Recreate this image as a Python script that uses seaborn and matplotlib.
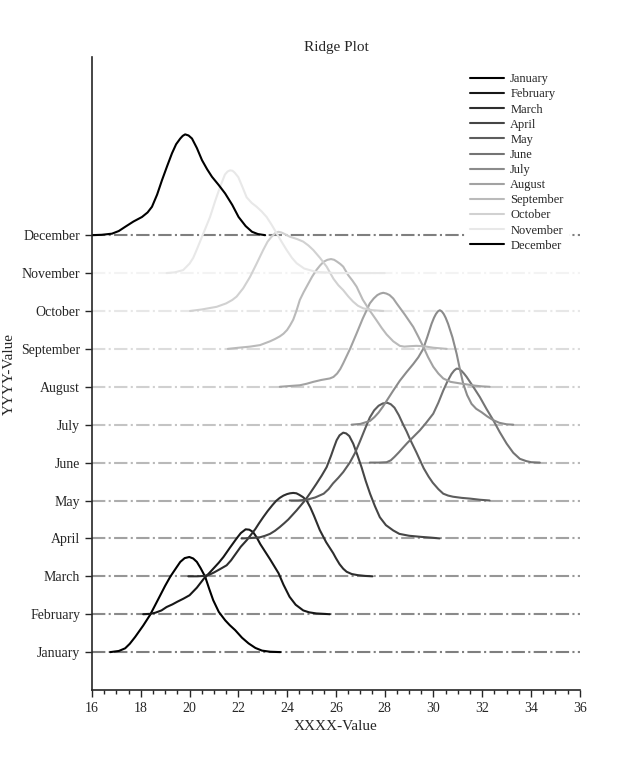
import matplotlib
matplotlib.use("Agg")
import matplotlib.pyplot as plt
from matplotlib.ticker import MultipleLocator
import pandas as pd
import seaborn as sns

sns.set_style("ticks")
plt.rcParams["font.family"] = ["Liberation Serif", "DejaVu Serif"]

months = ["January", "February", "March", "April", "May", "June", "July",
          "August", "September", "October", "November", "December"]

jan_x = [16.75, 17.1, 17.36, 17.55, 17.77, 18.1, 18.39, 18.8, 19.0, 19.21, 19.45, 19.62, 19.8, 19.99, 20.15, 20.3, 20.45, 20.64, 20.8, 20.97, 21.2, 21.46, 21.65, 21.87, 22.15, 22.42, 22.7, 22.97, 23.3, 23.72]
jan_h = [0, 0.03, 0.1, 0.22, 0.40, 0.7, 0.99, 1.5, 1.75, 1.99, 2.22, 2.38, 2.48, 2.51, 2.47, 2.38, 2.22, 1.99, 1.68, 1.37, 1.06, 0.84, 0.71, 0.58, 0.38, 0.23, 0.11, 0.04, 0.01, 0]

feb_x = [18.1, 18.4, 18.6, 18.85, 19.06, 19.3, 19.5, 19.75, 20.0, 20.3, 20.6, 20.8, 21.0, 21.2, 21.39, 21.65, 21.93, 22.1, 22.3, 22.45, 22.6, 22.75, 22.9, 23.1, 23.3, 23.48, 23.65, 23.85, 24.1, 24.35, 24.66, 24.9, 25.2, 25.75]
feb_h = [0, 0.01, 0.04, 0.1, 0.19, 0.26, 0.33, 0.41, 0.5, 0.7, 0.95, 1.08, 1.22, 1.36, 1.51, 1.75, 2.0, 2.14, 2.24, 2.23, 2.17, 2.03, 1.85, 1.65, 1.45, 1.26, 1.08, 0.78, 0.46, 0.25, 0.1, 0.05, 0.02, 0]

mar_x = [19.95, 20.3, 20.6, 20.8, 21.0, 21.25, 21.52, 21.7, 21.9, 22.1, 22.34, 22.5, 22.7, 22.85, 23.02, 23.2, 23.4, 23.55, 23.7, 23.85, 24.0, 24.12, 24.25, 24.38, 24.5, 24.65, 24.8, 24.95, 25.1, 25.22, 25.34, 25.47, 25.6, 25.75, 25.89, 26.0, 26.15, 26.3, 26.44, 26.65, 26.9, 27.2, 27.5]
mar_h = [0, 0.0, 0.01, 0.04, 0.1, 0.19, 0.29, 0.42, 0.6, 0.78, 0.95, 1.08, 1.25, 1.4, 1.56, 1.72, 1.88, 1.99, 2.07, 2.13, 2.17, 2.19, 2.2, 2.19, 2.15, 2.09, 2.0, 1.82, 1.6, 1.41, 1.22, 1.06, 0.9, 0.75, 0.61, 0.48, 0.32, 0.2, 0.12, 0.06, 0.03, 0.01, 0]

apr_x = [22.13, 22.5, 22.89, 23.1, 23.3, 23.5, 23.7, 23.88, 24.05, 24.22, 24.39, 24.56, 24.73, 24.95, 25.2, 25.42, 25.62, 25.8, 25.92, 26.03, 26.15, 26.3, 26.42, 26.55, 26.71, 26.88, 27.05, 27.22, 27.4, 27.6, 27.8, 28.05, 28.35, 28.6, 29.0, 29.5, 29.9, 30.25]
apr_h = [0, 0.01, 0.03, 0.07, 0.12, 0.2, 0.3, 0.4, 0.5, 0.62, 0.74, 0.87, 1.0, 1.2, 1.44, 1.66, 1.88, 2.18, 2.4, 2.59, 2.72, 2.79, 2.77, 2.7, 2.5, 2.2, 1.88, 1.52, 1.18, 0.85, 0.56, 0.35, 0.21, 0.12, 0.07, 0.04, 0.02, 0]

may_x = [24.1, 24.45, 24.8, 25.15, 25.5, 25.7, 25.88, 26.1, 26.3, 26.57, 26.78, 26.98, 27.2, 27.39, 27.57, 27.75, 27.92, 28.1, 28.25, 28.4, 28.58, 28.76, 28.9, 29.05, 29.3, 29.45, 29.6, 29.8, 29.97, 30.2, 30.4, 30.6, 30.8, 31.15, 31.5, 31.9, 32.3]
may_h = [0, 0.0, 0.02, 0.08, 0.18, 0.3, 0.45, 0.6, 0.75, 1.0, 1.25, 1.55, 1.9, 2.19, 2.38, 2.5, 2.56, 2.58, 2.54, 2.45, 2.25, 2.0, 1.82, 1.6, 1.27, 1.06, 0.85, 0.63, 0.47, 0.3, 0.18, 0.13, 0.1, 0.07, 0.05, 0.02, 0]

jun_x = [27.39, 27.75, 28.08, 28.25, 28.4, 28.58, 28.76, 28.93, 29.1, 29.27, 29.44, 29.7, 29.99, 30.2, 30.4, 30.57, 30.74, 30.85, 30.95, 31.05, 31.15, 31.25, 31.36, 31.63, 31.9, 32.17, 32.45, 32.72, 33.0, 33.27, 33.54, 33.8, 34.0, 34.36]
jun_h = [0, 0.0, 0.01, 0.06, 0.15, 0.27, 0.4, 0.52, 0.63, 0.74, 0.85, 1.05, 1.29, 1.58, 1.9, 2.14, 2.34, 2.43, 2.48, 2.47, 2.42, 2.35, 2.26, 2.0, 1.73, 1.42, 1.12, 0.8, 0.5, 0.26, 0.1, 0.04, 0.01, 0]

jul_x = [26.64, 27.0, 27.4, 27.58, 27.75, 27.92, 28.08, 28.35, 28.62, 28.9, 29.17, 29.38, 29.58, 29.75, 29.92, 30.02, 30.1, 30.18, 30.26, 30.34, 30.42, 30.5, 30.6, 30.78, 30.95, 31.08, 31.22, 31.38, 31.56, 31.75, 31.97, 32.2, 32.45, 32.7, 33.0, 33.27]
jul_h = [0, 0.02, 0.1, 0.2, 0.32, 0.47, 0.63, 0.9, 1.16, 1.39, 1.6, 1.78, 2.0, 2.32, 2.66, 2.82, 2.92, 2.99, 3.02, 2.99, 2.92, 2.82, 2.66, 2.3, 1.87, 1.47, 1.08, 0.78, 0.55, 0.42, 0.33, 0.22, 0.12, 0.05, 0.01, 0]

aug_x = [23.7, 24.1, 24.52, 24.8, 25.07, 25.4, 25.75, 25.9, 26.05, 26.18, 26.3, 26.58, 26.85, 27.1, 27.39, 27.55, 27.7, 27.82, 27.94, 28.07, 28.2, 28.35, 28.49, 28.83, 29.17, 29.38, 29.58, 29.78, 29.99, 30.2, 30.4, 30.7, 31.08, 31.4, 31.7, 32.0, 32.3]
aug_h = [0, 0.02, 0.04, 0.08, 0.13, 0.18, 0.22, 0.26, 0.35, 0.47, 0.62, 1.0, 1.41, 1.8, 2.2, 2.33, 2.42, 2.46, 2.48, 2.46, 2.42, 2.33, 2.2, 1.9, 1.58, 1.32, 1.06, 0.78, 0.53, 0.35, 0.22, 0.13, 0.09, 0.06, 0.03, 0.01, 0]

sep_x = [21.57, 22.0, 22.48, 22.89, 23.3, 23.5, 23.7, 23.85, 24.0, 24.12, 24.25, 24.38, 24.52, 24.68, 24.85, 25.02, 25.2, 25.35, 25.5, 25.65, 25.8, 25.93, 26.05, 26.18, 26.3, 26.5, 26.68, 26.85, 27.1, 27.4, 27.67, 27.88, 28.08, 28.35, 28.62, 28.8, 29.0, 29.3, 29.6, 30.0, 30.54]
sep_h = [0, 0.03, 0.06, 0.1, 0.2, 0.26, 0.33, 0.4, 0.5, 0.62, 0.77, 1.0, 1.29, 1.5, 1.7, 1.9, 2.08, 2.2, 2.3, 2.35, 2.37, 2.35, 2.3, 2.24, 2.17, 1.95, 1.8, 1.64, 1.3, 1.0, 0.75, 0.55, 0.38, 0.2, 0.08, 0.06, 0.07, 0.08, 0.07, 0.03, 0]

oct_x = [20.02, 20.5, 21.11, 21.5, 21.75, 21.93, 22.2, 22.48, 22.75, 23.02, 23.2, 23.35, 23.5, 23.64, 23.77, 23.9, 24.11, 24.4, 24.66, 24.87, 25.07, 25.35, 25.62, 25.9, 26.1, 26.3, 26.5, 26.7, 26.9, 27.12, 27.5, 27.94]
oct_h = [0, 0.04, 0.11, 0.2, 0.29, 0.38, 0.6, 0.9, 1.25, 1.61, 1.83, 1.95, 2.05, 2.09, 2.07, 2.03, 1.96, 1.9, 1.83, 1.73, 1.61, 1.4, 1.17, 0.85, 0.68, 0.55, 0.39, 0.25, 0.14, 0.07, 0.02, 0]

nov_x = [19.06, 19.4, 19.74, 20.0, 20.15, 20.29, 20.55, 20.84, 21.05, 21.25, 21.45, 21.56, 21.66, 21.76, 21.85, 22.0, 22.17, 22.34, 22.55, 22.75, 22.95, 23.16, 23.37, 23.57, 23.78, 23.98, 24.2, 24.39, 24.7, 25.2, 26.0, 27.0, 28.0]
nov_h = [0, 0.02, 0.08, 0.25, 0.4, 0.61, 1.02, 1.48, 1.9, 2.27, 2.6, 2.68, 2.71, 2.7, 2.65, 2.53, 2.27, 2.0, 1.85, 1.75, 1.63, 1.48, 1.27, 1.05, 0.82, 0.61, 0.4, 0.26, 0.12, 0.03, 0.0, 0.0, 0]

dec_x = [16.0, 16.4, 16.82, 17.1, 17.36, 17.7, 18.05, 18.28, 18.46, 18.67, 18.87, 19.08, 19.28, 19.45, 19.62, 19.72, 19.82, 19.96, 20.1, 20.3, 20.51, 20.72, 20.92, 21.2, 21.46, 21.75, 22.01, 22.3, 22.56, 22.8, 23.1]
dec_h = [0, 0.01, 0.04, 0.11, 0.22, 0.36, 0.48, 0.6, 0.75, 1.07, 1.45, 1.82, 2.16, 2.4, 2.55, 2.62, 2.66, 2.63, 2.55, 2.3, 1.98, 1.74, 1.54, 1.32, 1.1, 0.8, 0.48, 0.24, 0.09, 0.03, 0]

curve_x = [jan_x, feb_x, mar_x, apr_x, may_x, jun_x, jul_x, aug_x, sep_x, oct_x, nov_x, dec_x]
curve_h = [jan_h, feb_h, mar_h, apr_h, may_h, jun_h, jul_h, aug_h, sep_h, oct_h, nov_h, dec_h]

rows = []
for i, (m, xs, hs) in enumerate(zip(months, curve_x, curve_h)):
    for xv, hv in zip(xs, hs):
        rows.append({"month": m, "x": xv, "y": i + hv})
df = pd.DataFrame(rows)

cmap = plt.cm.gray
colors = [cmap(i / 11) for i in range(11)] + [(0, 0, 0, 1)]

fig, ax = plt.subplots(figsize=(6.4, 7.76), dpi=100)
fig.subplots_adjust(left=0.1437, right=0.906, bottom=0.1108, top=0.9265)

for i, m in enumerate(months):
    ax.axhline(i, color=colors[i], alpha=0.5, ls="-.", lw=1.5, zorder=1)

sns.lineplot(data=df, x="x", y="y", hue="month", hue_order=months,
             palette=colors, sort=False, estimator=None, units="month",
             lw=1.5, ax=ax, legend=True)

handles, labels = ax.get_legend_handles_labels()
leg = ax.legend(handles, labels, loc="upper right", fontsize=9, frameon=True,
                framealpha=1, edgecolor="none", labelspacing=0.25,
                handlelength=2.7, handletextpad=0.5, borderpad=0.4,
                borderaxespad=0.9)
for lh in leg.get_lines():
    lh.set_linewidth(1.5)

ax.set_xlim(16, 36)
ax.set_ylim(-1, 15.7)
ax.set_xticks(range(16, 37, 2))
ax.xaxis.set_minor_locator(MultipleLocator(0.5))
ax.set_yticks(range(12))
ax.set_yticklabels(months)
ax.tick_params(which="major", length=5, width=1, labelsize=10)
ax.tick_params(which="minor", length=3, width=1)
sns.despine(ax=ax)
for s in ["left", "bottom"]:
    ax.spines[s].set_linewidth(1.2)

ax.set_title("Ridge Plot", fontsize=11, pad=4)
ax.set_xlabel("XXXX-Value", fontsize=11)
ax.set_ylabel("YYYY-Value", fontsize=11)

fig.savefig("out.png", dpi=100)
